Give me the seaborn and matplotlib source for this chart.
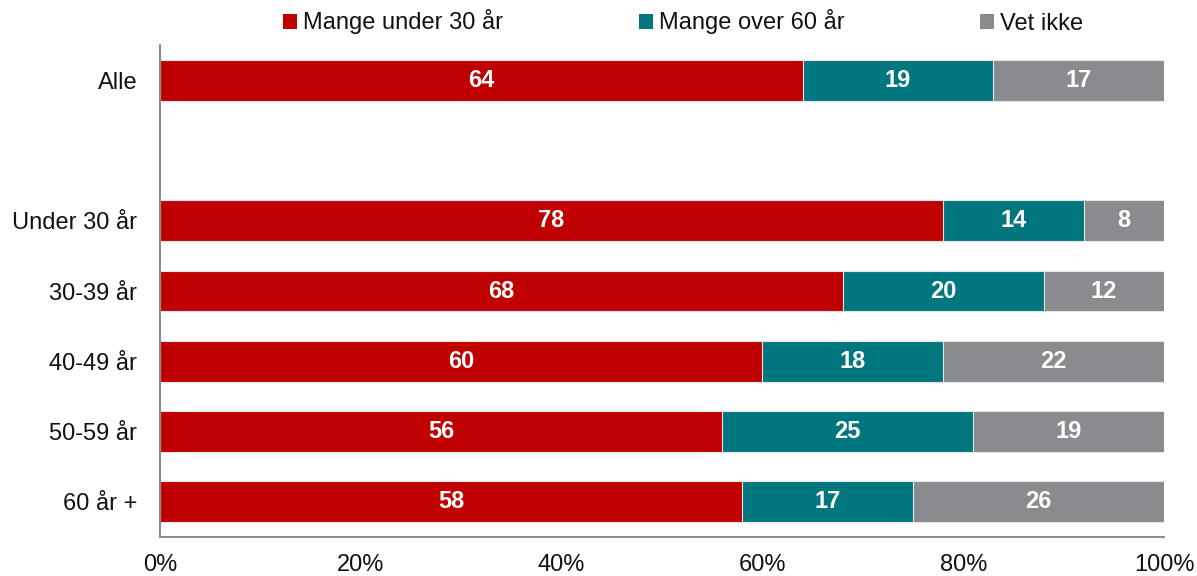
import matplotlib
matplotlib.use("Agg")
import matplotlib.pyplot as plt
import seaborn as sns
import pandas as pd
import numpy as np
from matplotlib.patches import Patch

categories = ["Alle", "", "Under 30 år", "30-39 år", "40-49 år", "50-59 år", "60 år +"]
groups = ["Alle", "Under 30 år", "30-39 år", "40-49 år", "50-59 år", "60 år +"]
under_30 = [64, 78, 68, 60, 56, 58]
over_60 = [19, 14, 20, 18, 25, 17]
vet_ikke = [17, 8, 12, 22, 19, 26]
series_names = ["Mange under 30 år", "Mange over 60 år", "Vet ikke"]
colors = ["#C00000", "#00777F", "#898B8E"]
xticks = [0, 20, 40, 60, 80, 100]

sns.set_theme(style="white")
plt.rcParams["font.family"] = ["Liberation Sans", "DejaVu Sans"]

df = pd.DataFrame({"group": groups, "a": under_30, "b": over_60, "c": vet_ikke})
df["cum_a"] = df["a"]
df["cum_b"] = df["a"] + df["b"]
df["cum_c"] = df["a"] + df["b"] + df["c"]

fig = plt.figure(figsize=(11.97, 5.76), dpi=100)
ax = fig.add_axes([160 / 1197, 1 - 537 / 576, (1164 - 160) / 1197, (537 - 45) / 576])

# stacked bars: draw cumulative totals from the back to the front
for col, color in zip(["cum_c", "cum_b", "cum_a"], colors[::-1]):
    sns.barplot(data=df, y="group", x=col, order=categories, color=color,
                orient="h", width=0.58, edgecolor="#E6E6E6", linewidth=0.8,
                saturation=1, ax=ax)

ax.set_xlim(0, 100)
ax.set_ylim(6.5, -0.5)
ax.set_xlabel("")
ax.set_ylabel("")
ax.set_xticks(xticks)
ax.set_xticklabels([f"{t}%" for t in xticks], fontsize=17, color="#111111")
ax.tick_params(axis="y", labelsize=17, labelcolor="#111111", length=0, pad=16.5)
ax.tick_params(axis="x", length=0, pad=12)

for side in ["top", "right"]:
    ax.spines[side].set_visible(False)
for side in ["left", "bottom"]:
    ax.spines[side].set_color("#8C8C8C")
    ax.spines[side].set_linewidth(1.5)

# value labels centred on each segment
for i, row in df.iterrows():
    y = categories.index(row["group"])
    left = 0
    for val in [row["a"], row["b"], row["c"]]:
        right = min(left + val, 100)
        ax.text((left + right) / 2, y, f"{val}", ha="center", va="center",
                color="white", fontsize=17, fontweight="bold")
        left += val

handles = [Patch(facecolor=c, edgecolor="none") for c in colors]
fig.legend(handles, series_names, loc="center", bbox_to_anchor=(683 / 1197, 1 - 22 / 576),
           ncol=3, frameon=False, fontsize=17, handlelength=0.6, handleheight=0.6,
           handletextpad=0.25, columnspacing=5.75, labelcolor="#111111")

fig.savefig("out.png", dpi=100)
